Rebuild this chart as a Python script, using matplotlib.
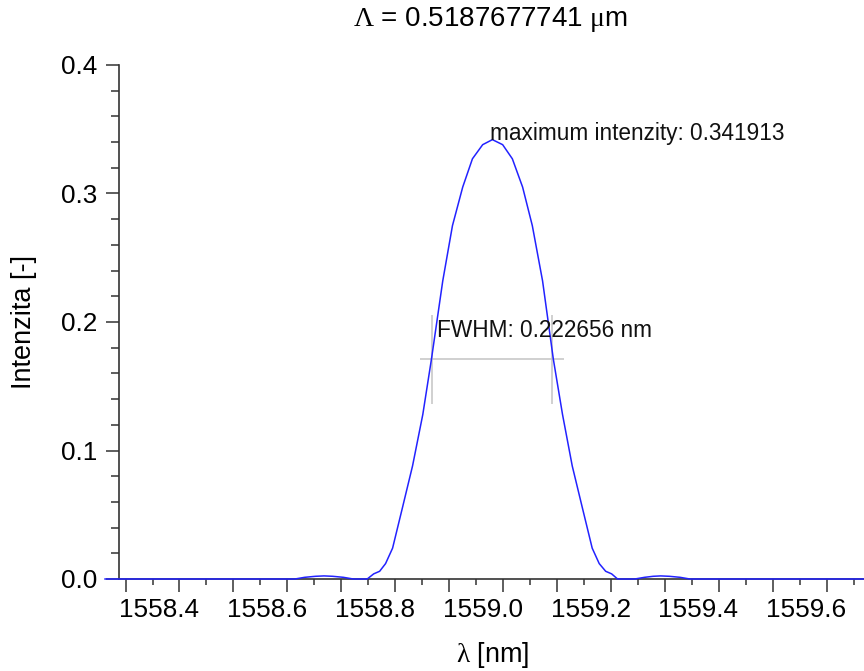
import numpy as np
import matplotlib
matplotlib.use("Agg")
import matplotlib.pyplot as plt
from matplotlib.ticker import MultipleLocator, FormatStrFormatter, NullLocator

plt.rcParams['font.family'] = ['Liberation Sans', 'DejaVu Sans']
plt.rcParams['mathtext.fontset'] = 'custom'
plt.rcParams['mathtext.rm'] = 'Liberation Serif'
plt.rcParams['mathtext.default'] = 'rm'

# spectrum (wavelength in nm, intensity)
wavelength = [1558.30, 1558.652, 1558.670, 1558.690, 1558.706, 1558.722, 1558.742, 1558.760,
              1558.786, 1558.798, 1558.809, 1558.820, 1558.833, 1558.851, 1558.870, 1558.889,
              1558.905, 1558.926, 1558.944, 1558.963, 1558.981, 1559.000, 1559.018,
              1559.037, 1559.055, 1559.074, 1559.092, 1559.111, 1559.131, 1559.148,
              1559.166, 1559.185, 1559.203, 1559.216, 1559.228, 1559.239, 1559.250,
              1559.282, 1559.300, 1559.316, 1559.330, 1559.346, 1559.366, 1559.384, 1559.80]
intensity = [0.0, 0.0, 0.0013, 0.0021, 0.0024, 0.0021, 0.0013, 0.0,
             0.0, 0.004, 0.006, 0.012, 0.024, 0.055, 0.088, 0.128,
             0.171, 0.232, 0.275, 0.305, 0.327, 0.338, 0.341913,
             0.338, 0.327, 0.305, 0.275, 0.232, 0.171, 0.128,
             0.088, 0.055, 0.024, 0.012, 0.006, 0.004, 0.0,
             0.0, 0.0013, 0.0021, 0.0024, 0.0021, 0.0013, 0.0, 0.0]

period_um = 0.5187677741
max_intensity = 0.341913
peak_wl = 1559.013
fwhm = 0.222656
fwhm_left = 1558.906
fwhm_right = 1559.129

xtick_labels = [1558.4, 1558.6, 1558.8, 1559.0, 1559.2, 1559.4, 1559.6]

fig = plt.figure(figsize=(8.64, 6.71), dpi=100)
ax = fig.add_axes([119 / 864, 1 - 579 / 671, 745 / 864, 514 / 671])

ax.plot(wavelength, intensity, color='#2222ff', lw=1.1, zorder=3, clip_on=False)

# FWHM marker
half = max_intensity / 2
ax.hlines(half, fwhm_left - 0.022, fwhm_right + 0.022, color='#c4c4c4', lw=1.1, zorder=2)
ax.vlines([fwhm_left, fwhm_right], half - 0.0346, half + 0.0346, color='#c4c4c4', lw=1.1, zorder=2)
ax.text(fwhm_left + 0.009, 0.1885, f'FWHM: {fwhm} nm', fontsize=16.3, color='#111111',
        ha='left', va='baseline', zorder=4)
ax.text(peak_wl, max_intensity, f'maximum intenzity: {max_intensity}', fontsize=16.3,
        color='#111111', ha='left', va='baseline', zorder=4)

ax.set_xlim(1558.3259, 1559.7068)
ax.set_ylim(0, 0.4)

for s in ['top', 'right']:
    ax.spines[s].set_visible(False)
for s in ['left', 'bottom']:
    ax.spines[s].set_color('#333333')
    ax.spines[s].set_linewidth(1.2)

# y axis
ax.yaxis.set_major_locator(MultipleLocator(0.1))
ax.yaxis.set_minor_locator(MultipleLocator(0.02))
ax.yaxis.set_major_formatter(FormatStrFormatter('%.1f'))
ax.tick_params(axis='y', which='major', length=9.5, width=1.1, color='#333333',
               labelsize=18.8, pad=6)
ax.tick_params(axis='y', which='minor', length=6, width=1.1, color='#333333')

# x axis: labels without marks, marks on a twin axis (they sit off the labels)
ax.set_xticks(xtick_labels)
ax.set_xticklabels([f'{v:.1f}' for v in xtick_labels])
ax.xaxis.set_minor_locator(NullLocator())
ax.tick_params(axis='x', which='major', length=0, labelsize=18.8, pad=14)

sec = ax.secondary_xaxis('bottom')
sec.set_xticks(np.arange(1558.338, 1559.71, 0.1))
sec.set_xticks(np.arange(1558.388, 1559.71, 0.1), minor=True)
sec.tick_params(which='major', length=9.4, width=1.1, color='#333333', labelbottom=False)
sec.tick_params(which='minor', length=4.5, width=1.1, color='#333333')
sec.spines['bottom'].set_visible(False)

ax.set_ylabel('Intenzita [-]', fontsize=19.5, va='center', ha='center')
ax.yaxis.set_label_coords((24 - 119) / 745, 0.5)
ax.set_xlabel(r'$\lambda$ [nm]', fontsize=19.5, va='center', ha='center')
ax.xaxis.set_label_coords((493 - 119) / 745, (579 - 655) / 514)

ax.set_title(rf'$\Lambda$ = {period_um} $\mu$m', fontsize=20, x=(491 - 119) / 745,
             y=(579 - 28) / 514, va='center')

fig.savefig('out.png', dpi=100)
